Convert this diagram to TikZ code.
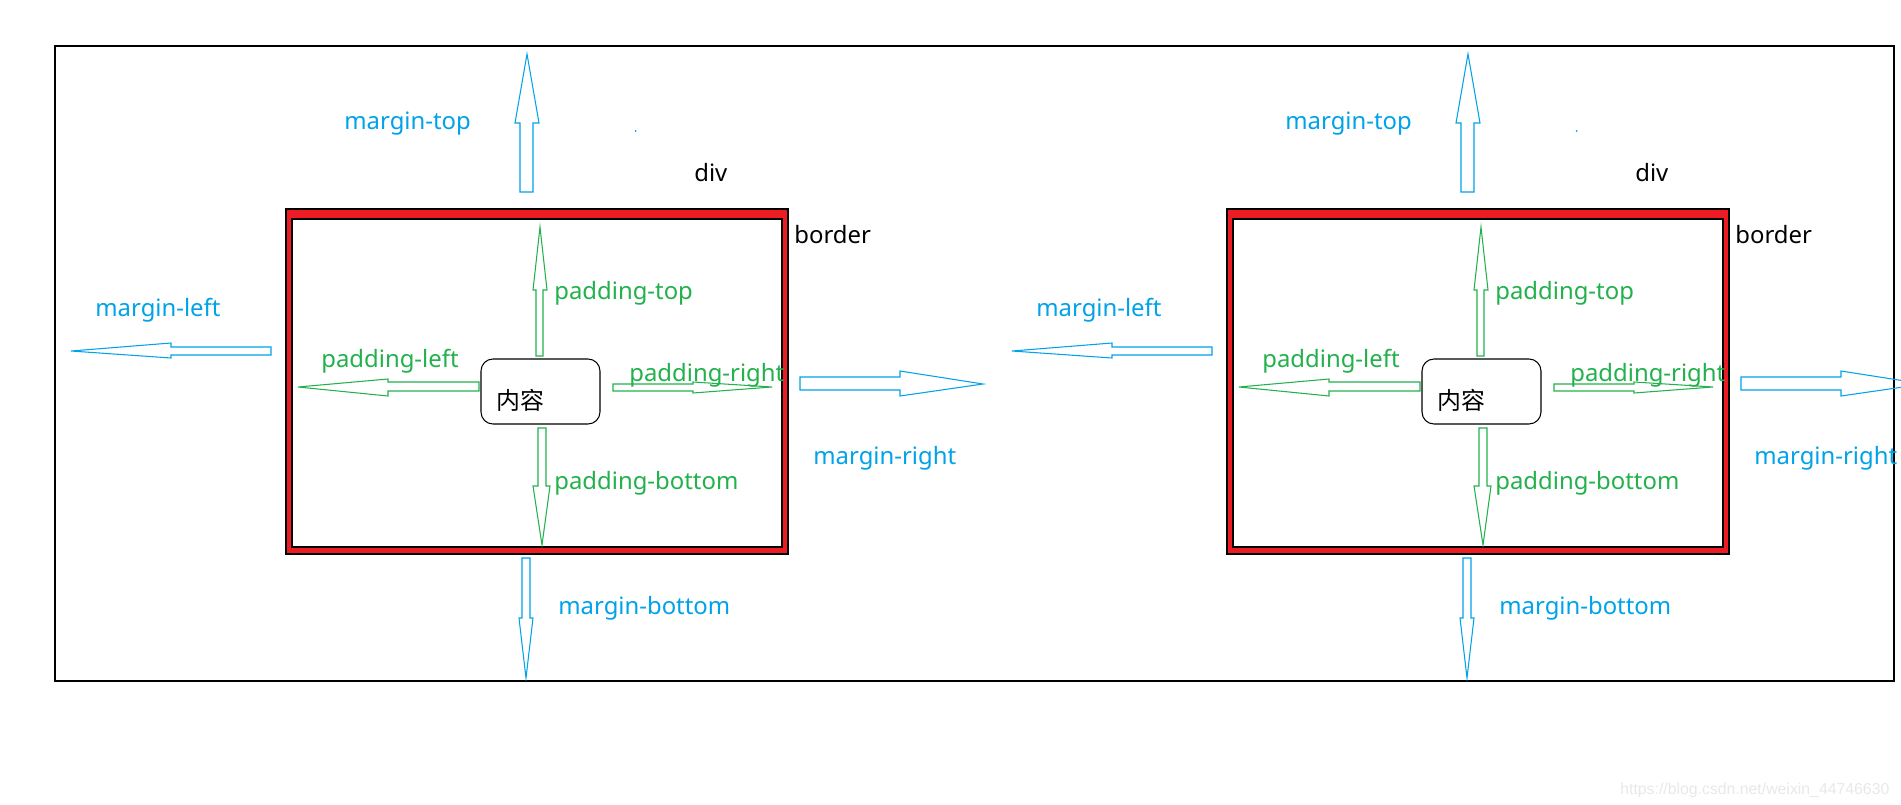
\documentclass[tikz,border=0pt]{standalone}
\usepackage{fontspec}
\setmainfont{Noto Sans}
\newfontfamily\cjk{Noto Sans CJK SC}
\newfontfamily\wmfont{Liberation Sans}
\definecolor{paintblue}{RGB}{0,162,232}
\definecolor{paintgreen}{RGB}{34,177,76}
\definecolor{paintred}{RGB}{237,28,36}
\begin{document}
\begin{tikzpicture}[
    x=0.02cm, y=-0.02cm,
    txt/.style={anchor=west, inner sep=0pt, font=\fontsize{13.6}{16}\selectfont},
    margintxt/.style={txt, text=paintblue},
    paddingtxt/.style={txt, text=paintgreen},
    margin/.style={draw=paintblue, line width=0.6pt, line join=miter},
    padding/.style={draw=paintgreen, line width=0.6pt, line join=miter},
    edge/.style={draw=black, line width=0.6pt}
  ]
  \clip (0,0) rectangle (1901,805);
  % outer frame
  \draw[edge] (55,46) rectangle (1894,681);
  \foreach \p in {0,1} {
    \begin{scope}[shift={(941*\p,0)}]
      % border of the div
      \filldraw[edge, fill=paintred] (286,209) rectangle (788,554);
      \filldraw[edge, fill=white] (292,219) rectangle (782,547);
      % content box
      \draw[edge, rounded corners=0.24cm] (481,359) rectangle (600,424);
      \node[txt] (content\p) at (496,400) {\cjk 内容};
      % margin arrows
      \draw[margin] (520,192) -- (520,123) -- (515,123) -- (527,54)
        -- (539,123) -- (533,123) -- (533,192) -- cycle;
      \draw[margin] (522,558) -- (522,618) -- (519,618) -- (526,678)
        -- (533,618) -- (530,618) -- (530,558) -- cycle;
      \draw[margin] (271,347) -- (171,347) -- (171,343) -- (71,351)
        -- (171,358) -- (171,355) -- (271,355) -- cycle;
      \draw[margin] (800,377) -- (900,377) -- (900,371) -- (983,384)
        -- (900,396) -- (900,390) -- (800,390) -- cycle;
      % padding arrows
      \draw[padding] (536,356) -- (536,290) -- (533,290) -- (540,227)
        -- (547,290) -- (543,290) -- (543,356) -- cycle;
      \draw[padding] (538,428) -- (538,486) -- (533,486) -- (542,545)
        -- (550,486) -- (546,486) -- (546,428) -- cycle;
      \draw[padding] (479,382) -- (388,382) -- (388,379) -- (298,387)
        -- (388,396) -- (388,391) -- (479,391) -- cycle;
      \draw[padding] (613,384) -- (693,384) -- (693,382) -- (772,387)
        -- (693,393) -- (693,391) -- (613,391) -- cycle;
      % labels
      \node[margintxt] (mtop\p) at (344,124) {margin-top};
      \node[margintxt] (mleft\p) at (95,310) {margin-left};
      \node[margintxt] (mright\p) at (813,458) {margin-right};
      \node[margintxt] (mbottom\p) at (558,608.5) {margin-bottom};
      \node[paddingtxt] (ptop\p) at (554,293) {padding-top};
      \node[paddingtxt] (pleft\p) at (321,361) {padding-left};
      \node[paddingtxt] (pright\p) at (629,375) {padding-right};
      \node[paddingtxt] (pbottom\p) at (554,483) {padding-bottom};
      \node[txt] (div\p) at (694,172.6) {div};
      \node[txt] (border\p) at (794,235) {border};
      \fill[paintblue] (635.5,131) circle (1);
    \end{scope}
  }
  \node[anchor=west, inner sep=0pt, text=black!9,
    font=\fontsize{9}{11}\selectfont\wmfont] (watermark) at (1620,790)
    {https://blog.csdn.net/weixin\_44746630};
\end{tikzpicture}
\end{document}
